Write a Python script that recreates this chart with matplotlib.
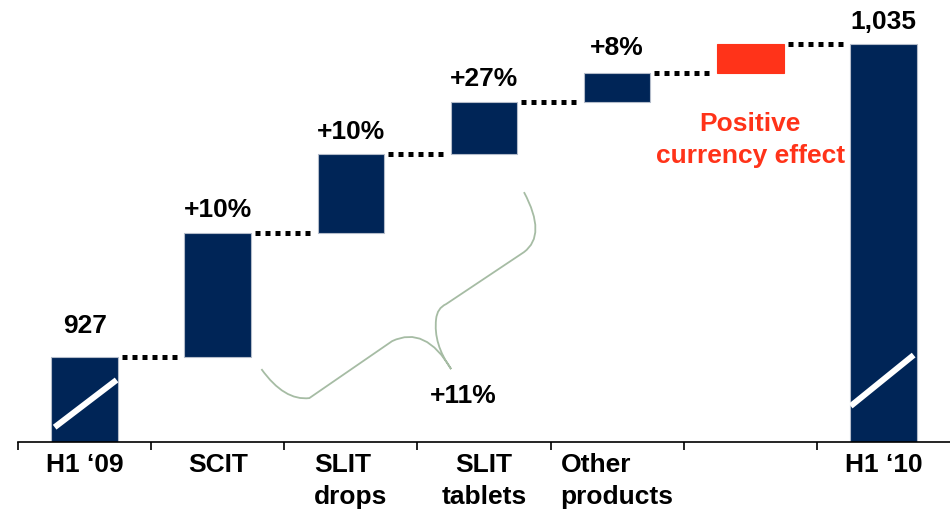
import matplotlib
matplotlib.use("Agg")
import matplotlib.pyplot as plt
from matplotlib.path import Path
from matplotlib.patches import PathPatch

plt.rcParams['font.family'] = ['Liberation Sans', 'DejaVu Sans']
plt.rcParams['font.weight'] = 'bold'

# data
categories = ["H1 \u201809", "SCIT", "SLIT\ndrops", "SLIT\ntablets", "Other\nproducts", "", "H1 \u201810"]
start_value = 927
deltas = [43, 27, 18, 10, 10]          # SCIT, SLIT drops, SLIT tablets, Other, currency
end_value = 1035
bar_labels = ["927", "+10%", "+10%", "+27%", "+8%", "", "1,035"]
slit_total_label = "+11%"
currency_label = "Positive\ncurrency effect"

navy = '#002557'
red = '#FF3319'
y_lo, y_hi = 897.7, 1050.6
w = 0.5
fs = 19

fig = plt.figure(figsize=(9.5, 5.1), dpi=100)
ax = fig.add_axes([0.019, 0.1314, 0.981, 0.8686])

# bars
bottoms, tops, colors = [], [], []
bottoms.append(y_lo); tops.append(start_value); colors.append(navy)
cum = start_value
for i, d in enumerate(deltas):
    bottoms.append(cum); tops.append(cum + d)
    colors.append(red if i == len(deltas) - 1 else navy)
    cum += d
bottoms.append(y_lo); tops.append(end_value); colors.append(navy)

xs = list(range(len(categories)))
heights = [t - b for t, b in zip(tops, bottoms)]
for x, b, h, c in zip(xs, bottoms, heights, colors):
    ax.bar(x, h, bottom=b, width=w, color=c,
           edgecolor='#B4BCCA' if c == navy else c, linewidth=0.8, zorder=2)

# dotted connectors
for i in range(len(xs) - 1):
    ax.plot([xs[i] + 0.28, xs[i + 1] - 0.28], [tops[i], tops[i]], color='black',
            lw=3.6, linestyle=(0, (1, 1)), dash_capstyle='butt', zorder=3)

# broken-axis slashes
ax.plot([-0.225, 0.24], [902.8, 919.1], color='white', lw=4.3, solid_capstyle='butt', zorder=4)
ax.plot([6 - 0.246, 6 + 0.227], [910.1, 927.7], color='white', lw=4.3, solid_capstyle='butt', zorder=4)

# value labels
for i, (x, t, lab) in enumerate(zip(xs, tops, bar_labels)):
    if not lab:
        continue
    off = 18 if i == 0 else (14 if i == 4 else 12)
    ax.annotate(lab, (x, t), xytext=(0, off), textcoords='offset points',
                ha='center', va='baseline', fontsize=fs, fontweight='bold', color='black')

ax.annotate(currency_label, (5, bottoms[5]), xytext=(0, -27), textcoords='offset points',
            ha='center', va='top', fontsize=fs, fontweight='bold', color=red,
            linespacing=1.42)

# curly brace over the SLIT items
verts = [(1.328, 922.86), (1.500, 911.82), (1.688, 912.85), (2.310, 932.52),
         (2.560, 938.0), (2.753, 922.86), (2.618, 931.49), (2.640, 940.11),
         (2.648, 943.91), (2.715, 945.29), (3.300, 963.23), (3.473, 969.10),
         (3.300, 983.94)]
codes = [Path.MOVETO, Path.CURVE3, Path.CURVE3, Path.LINETO,
         Path.CURVE3, Path.CURVE3, Path.CURVE3, Path.CURVE3,
         Path.CURVE3, Path.CURVE3, Path.LINETO, Path.CURVE3, Path.CURVE3]
ax.add_patch(PathPatch(Path(verts, codes), facecolor='none', edgecolor='#A6BCA4', lw=1.3, zorder=1))
ax.text(2.843, 913.9, slit_total_label, ha='center', va='center', fontsize=fs,
        fontweight='bold', color='black')

# axes styling
ax.set_xlim(-0.5, len(categories) - 0.5)
ax.set_ylim(y_lo, y_hi)
for s in ['top', 'right', 'left']:
    ax.spines[s].set_visible(False)
ax.spines['bottom'].set_linewidth(1.2)
ax.set_yticks([])
ax.set_xticks([x - 0.5 for x in xs])
ax.set_xticklabels([])
ax.tick_params(axis='x', which='major', direction='out', length=6, width=1.2)
ax.set_xticks(xs, minor=True)
ax.set_xticklabels(categories, minor=True, fontsize=fs, fontweight='bold', linespacing=1.42)
ax.tick_params(axis='x', which='minor', length=0, pad=7.5)
for lab in ax.get_xticklabels(minor=True):
    if lab.get_text() in ("Other\nproducts", "SLIT\ndrops"):
        lab.set_multialignment('left')

fig.savefig('out.png', dpi=100)
